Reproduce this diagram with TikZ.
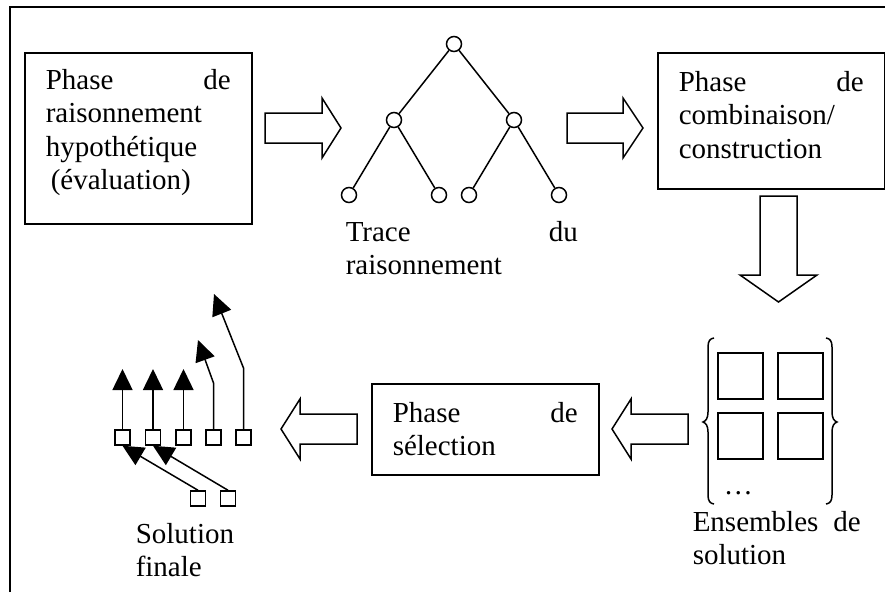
\documentclass[tikz,border=0pt]{standalone}
\usepackage{fontspec}
\setmainfont{Liberation Serif}
\usetikzlibrary{arrows.meta}
\begin{document}
\begin{tikzpicture}[x=1pt,y=-1pt,
  line width=1.5pt,
  box/.style={draw, line width=1.5pt, inner sep=0pt, anchor=north west},
  txt/.style={anchor=north west, inner sep=0pt, align=left,
    font=\fontsize{29}{33.5}\selectfont,
    execute at begin node=\setlength{\parindent}{0pt}},
  blockarrow/.style={draw, line width=1.5pt, line join=miter, fill=white},
  tnode/.style={circle, draw, minimum size=15pt, inner sep=0pt, line width=1.5pt},
  sq/.style={draw, minimum size=15pt, inner sep=0pt, line width=1.5pt},
  bigsq/.style={draw, minimum width=45pt, minimum height=46pt, inner sep=0pt, line width=1.5pt},
  uparrow/.style={-{Triangle[width=20pt,length=21pt]}, line width=1.5pt}
]
\useasboundingbox (0,0) rectangle (885,592);
% outer frame
\draw (10,592) -- (10,7) -- (885,7);

% box 1
\node[box, minimum width=227pt, minimum height=171pt] (b1) at (24,52) {};
\node[txt, text width=185pt] (t1) at (45,68.2) {Phase\hfill de\\raisonnement\\hypothétique\\\hspace*{5pt}(évaluation)};

% arrow 1
\draw[blockarrow] (265,113) -- (322,113) -- (322,98) -- (341,128) -- (322,158) -- (322,143) -- (265,143) -- cycle;

% tree
\node[tnode] (r) at (454,44) {};
\node[tnode] (a) at (394,120) {};
\node[tnode] (b) at (514,120) {};
\node[tnode] (l1) at (349,195) {};
\node[tnode] (l2) at (439,195) {};
\node[tnode] (l3) at (469,195) {};
\node[tnode] (l4) at (559,195) {};
\draw (r) -- (a); \draw (r) -- (b);
\draw (a) -- (l1); \draw (a) -- (l2);
\draw (b) -- (l3); \draw (b) -- (l4);
\node[txt, text width=232pt] (t2) at (345,220.2) {Trace\hfill du\\raisonnement};

% arrow 2
\draw[blockarrow] (567,113) -- (623,113) -- (623,98) -- (643,128) -- (623,158) -- (623,143) -- (567,143) -- cycle;

% box 3
\node[box, minimum width=227pt, minimum height=136pt] (b3) at (657,52) {};
\node[txt, text width=185pt] (t3) at (678,70.2) {Phase\hfill de\\combinaison/\\construction};

% down arrow
\draw[blockarrow] (760,196) -- (797,196) -- (797,275) -- (817,275) -- (778.5,302) -- (740,275) -- (760,275) -- cycle;

% solution sets
\draw (714,338) .. controls (710,338.5) and (708,341) .. (708,347) -- (708,412)
  .. controls (708,418) and (706,421) .. (703,422)
  .. controls (706,423) and (708,426) .. (708,432) -- (708,495)
  .. controls (708,501) and (710,503.5) .. (714,504);
\draw (826,338) .. controls (830,338.5) and (832,341) .. (832,347) -- (832,412)
  .. controls (832,418) and (834,421) .. (837,422)
  .. controls (834,423) and (832,426) .. (832,432) -- (832,495)
  .. controls (832,501) and (830,503.5) .. (826,504);
\node[bigsq] (s1) at (740.5,376) {};
\node[bigsq] (s2) at (800.5,376) {};
\node[bigsq] (s3) at (740.5,436) {};
\node[bigsq] (s4) at (800.5,436) {};
\node[anchor=base west, inner sep=0pt, font=\fontsize{29}{33.5}\selectfont] (dots) at (723,494) {…};
\node[txt, text width=168pt] (t4) at (692,510.2) {Ensembles\hfill de\\solution};

% arrow 3
\draw[blockarrow] (688,414) -- (631,414) -- (631,399) -- (612,429) -- (631,459) -- (631,444) -- (688,444) -- cycle;

% selection box
\node[box, minimum width=227pt, minimum height=91pt] (b5) at (371,383) {};
\node[txt, text width=185pt] (t5) at (392,401.2) {Phase\hfill de\\sélection};

% arrow 4
\draw[blockarrow] (357,414) -- (300,414) -- (300,399) -- (281,429) -- (300,459) -- (300,444) -- (357,444) -- cycle;

% final solution
\node[sq] (q1) at (122.5,437.5) {};
\node[sq] (q2) at (153,437.5) {};
\node[sq] (q3) at (183.5,437.5) {};
\node[sq] (q4) at (213.5,437.5) {};
\node[sq] (q5) at (243.5,437.5) {};
\node[sq] (p1) at (198,498.5) {};
\node[sq] (p2) at (228,498.5) {};
\coordinate (e1) at (122.5,369);
\coordinate (e2) at (153,369);
\coordinate (e3) at (183.5,369);
\coordinate (k4) at (213.5,383);
\coordinate (e4) at (198,340);
\coordinate (k5) at (243.5,368);
\coordinate (e5) at (214,294);
\draw[uparrow] (q1.north) -- (e1);
\draw[uparrow] (q2.north) -- (e2);
\draw[uparrow] (q3.north) -- (e3);
\draw[uparrow] (q4.north) -- (k4) -- (e4);
\draw[uparrow] (q5.north) -- (k5) -- (e5);
\draw[uparrow] (p1.north) -- (q1.south);
\draw[uparrow] (p2.north) -- (q2.south);
\node[txt, text width=120pt] (t6) at (135,522.2) {Solution\\finale};
\end{tikzpicture}
\end{document}
